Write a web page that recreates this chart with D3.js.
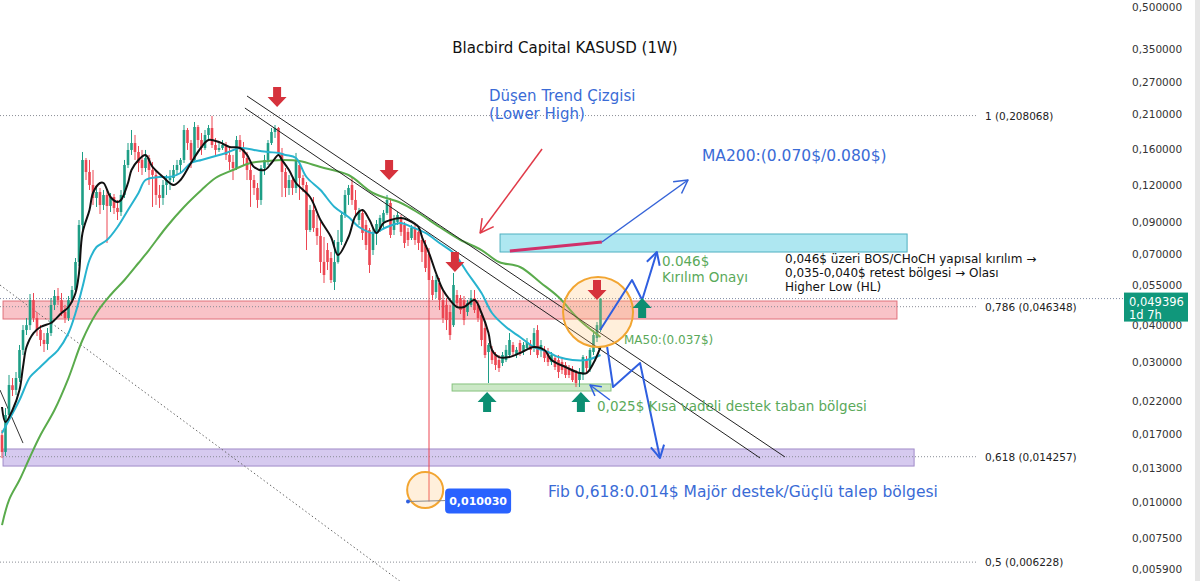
<!DOCTYPE html>
<html><head><meta charset="utf-8">
<script src="https://cdn.jsdelivr.net/npm/d3@7"></script>
<style>
body{margin:0;background:#fff;}
svg{display:block;font-family:'DejaVu Sans',sans-serif;}
</style></head>
<body><svg id="c" width="1200" height="581"></svg>
<script>
// ---------- DATA (weekly KASUSD) ----------
const opens=[.0169,.0148,.0198,.0250,.0241,.02646,.0330,.03858,.0401,.0488,.0424,.0386,.0357,.03457,.03768,.0470,.0504,.0488,.04445,.0424,.0488,.05284,.06585,.0881,.1468,.1336,.1206,.1089,.1141,.1031,.1115,.1023,.1097,.1007,.0975,.1115,.1411,.1588,.1677,.1563,.1468,.1378,.1491,.1357,.1305,.1115,.1089,.1206,.1254,.1274,.1357,.1411,.1468,.1858,.1677,.1468,.1902,.1717,.1613,.1786,.1887,.1651,.1588,.1613,.1651,.1527,.1445,.1378,.1717,.1613,.1491,.1357,.1254,.1178,.1072,.1378,.1468,.1677,.1829,.1887,.1551,.1336,.1178,.1254,.1178,.1411,.1274,.1206,.0847,.0991,.0860,.0808,.0659,.07235,.06794,.05627,.06585,.07705,.0953,.1115,.1206,.1072,.0916,.09677,.0881,.0847,.07235,.0834,.0860,.0902,.0968,.10468,.0847,.0902,.0931,.0881,.0834,.0795,.0860,.0834,.07827,.0753,.0700,.05716,.05202,.05583,.0488,.0470,.04445,.0401,.0508,.0496,.0488,.04445,.0470,.0496,.0470,.04341,.0392,.03246,.0330,.0317,.03048,.02977,.03048,.0317,.0343,.0317,.03484,.03246,.0335,.0343,.0335,.03858,.0330,.0330,.03246,.0300,.03096,.03048,.0300,.02931,.02862,.02818,.02752,.02605,.0271,.03048,.02862,.03246,.03623,.03858];
const highs=[.01758,.0209,.0271,.02646,.02774,.0343,.04013,.0424,.0512,.0516,.04445,.0401,.03768,.0392,.0496,.05284,.05368,.0516,.0470,.0504,.05453,.06794,.09159,.1563,.1491,.1468,.1357,.1206,.11777,.1159,.1159,.11324,.11236,.10718,.1159,.1468,.16774,.18579,.17864,.16384,.1588,.1588,.1527,.14448,.1357,.1206,.1254,.1305,.1357,.1411,.1468,.1491,.19324,.18874,.17174,.19784,.1932,.18146,.1858,.1932,.2075,.17448,.16906,.1717,.1691,.1613,.1527,.17724,.1786,.1691,.1563,.1434,.1305,.12249,.1411,.1527,.1717,.1887,.1932,.1902,.1613,.1378,.1305,.1274,.1551,.1468,.1305,.1235,.1031,.1097,.09527,.09016,.08014,.07645,.07122,.07827,.08467,.0975,.1159,.1206,.12841,.1159,.1007,.0991,.0916,.0860,.0860,.0916,.0953,.0991,.1115,.1089,.0953,.0975,.0953,.0902,.0860,.0881,.0881,.0860,.0814,.07827,.0735,.05899,.05945,.05806,.05284,.0496,.0470,.06039,.05284,.0508,.0504,.0488,.05284,.05284,.0488,.04445,.0411,.03484,.0340,.03246,.0317,.03246,.0343,.03768,.03511,.03376,.03567,.03511,.03623,.03567,.0392,.0401,.03567,.0340,.0335,.03246,.0317,.0317,.03096,.0300,.02931,.02908,.02818,.02862,.0317,.03145,.0335,.03858,.0411,.0496];
const lows=[.0141,.01434,.0190,.02297,.02315,.02564,.0317,.0371,.03858,.0411,.0368,.0340,.03246,.0330,.0368,.04515,.0470,.04307,.04077,.04141,.0477,.0512,.06381,.08467,.12541,.11594,.10305,.10145,.09602,.0991,.07645,.09753,.0960,.09159,.09452,.1089,.13783,.15266,.1468,.1336,.13045,.1336,.1206,.10145,.1031,.1007,.1031,.1115,.1159,.12345,.1305,.13251,.14335,.1588,.1378,.14448,.16128,.1527,.1588,.1717,.1613,.1527,.1563,.1588,.1468,.1357,.1254,.1357,.1563,.1411,.1254,.1015,.1115,.1007,.1031,.1305,.1411,.1651,.1745,.1527,.1097,.1097,.1115,.1115,.1132,.1072,.1141,.07235,.08335,.0834,.07526,.06039,.05583,.06183,.05583,.05284,.0650,.07526,.09305,.1031,.1031,.0953,.0881,.07827,.07235,.0604,.06956,.0753,.0834,.0860,.0953,.07951,.0814,.0881,.0808,.0735,.07467,.07827,.0753,.07235,.06585,.06087,.01003,.04884,.0496,.04515,.04077,.03858,.03567,.03951,.04659,.04375,.0401,.04307,.04623,.0441,.0411,.0340,.03096,.02544,.02954,.02818,.02774,.02908,.0300,.03096,.03145,.03096,.03145,.0317,.0330,.0317,.03246,.03096,.0312,.0300,.02908,.02931,.02818,.02646,.02731,.02646,.02646,.02564,.02466,.02466,.02605,.02774,.02774,.0317,.03511,.03798];
const closes=[.0148,.01979,.02505,.02408,.02646,.03297,.03858,.0401,.04884,.0424,.0386,.03567,.03457,.03768,.04696,.0504,.0488,.04445,.0424,.0488,.05284,.06585,.08806,.14677,.13355,.1206,.10888,.11413,.10305,.11148,.10225,.10974,.10065,.0975,.1115,.14112,.15877,.1677,.1563,.14335,.1378,.1491,.1357,.1305,.1115,.1089,.1206,.1254,.12741,.1357,.1411,.1468,.1858,.1677,.1468,.19023,.17174,.1613,.1786,.1887,.16513,.1588,.1613,.1651,.1527,.1445,.1378,.1717,.1613,.1491,.1357,.1254,.1178,.1072,.1378,.1468,.1677,.1829,.1887,.15507,.1336,.1178,.1254,.1178,.1468,.1274,.1206,.08467,.0991,.08601,.08078,.06585,.05945,.06585,.05716,.06585,.07705,.09527,.1115,.1178,.1072,.0991,.0975,.0827,.07526,.06432,.0834,.08876,.0931,.0968,.1072,.08141,.0916,.0953,.0834,.07645,.07827,.0860,.07827,.07645,.07122,.06282,.05716,.05081,.05716,.04884,.0424,.04174,.0371,.05496,.0477,.04515,.04174,.0477,.0496,.04515,.0424,.03567,.0317,.0343,.03048,.02931,.02862,.0317,.0330,.03567,.03246,.0330,.03246,.0343,.03511,.0330,.03768,.0317,.0343,.03096,.0300,.0317,.02885,.02774,.02818,.0271,.0271,.02605,.02544,.02774,.0312,.02862,.0330,.0371,.0401,.049396];

// moving averages sampled at candle indices
const maFastIdx=[0,1,3,5,6,7,9,11,14,15,17,19,21,22,23,25,26,28,29,31,33,34,36,37,39,41,43,46,49,51,54,57,59,62,65,68,70,72,75,77,79,80,82,84,88,91,94,96,99,101,103,105,107,109,111,114,116,119,120,122,124,126,128,130,132,135,137,139,140,142,145,148,152,155,157,161,165,167,169,171];
const maFastVal=[.02107,.01872,.02058,.02408,.02885,.03376,.03768,.03951,.04077,.04174,.0441,.04623,.0516,.06039,.0827,.0991,.11324,.1225,.1225,.10974,.1055,.10718,.1225,.13567,.14677,.15266,.13892,.12841,.1206,.12541,.14335,.16255,.17174,.16906,.16255,.16128,.15266,.13892,.13567,.14335,.15266,.14677,.13567,.1225,.10974,.09159,.08014,.06956,.08014,.09452,.09908,.09159,.0827,.08946,.09159,.09305,.09159,.08669,.08014,.07066,.06039,.05284,.04884,.04623,.04623,.04884,.0441,.03768,.03297,.0312,.0312,.0322,.03376,.03297,.03048,.02885,.02752,.02752,.02977,.03376];
const ma20Idx=[0,2,5,8,10,13,16,19,21,23,25,27,30,33,36,39,41,45,48,51,54,57,60,64,68,72,76,79,81,84,87,91,95,99,102,106,110,114,117,121,125,129,133,137,140,144,148,152,156,159,163,167,171];
const ma20Val=[.01717,.01902,.02226,.02667,.02818,.03048,.03297,.03768,.0441,.0541,.06689,.07408,.07827,.08669,.09908,.11324,.12541,.12841,.12841,.13251,.14335,.14677,.15028,.15507,.16128,.15877,.1563,.15507,.15266,.1491,.12841,.11594,.10145,.09378,.08669,.0827,.08669,.08946,.08669,.0827,.07645,.07066,.06039,.0516,.0441,.03951,.03652,.03376,.03246,.0312,.03048,.03048,.0317];
const ma50Idx=[0,2,5,8,11,15,19,23,27,31,35,39,42,47,52,57,61,66,71,76,80,85,91,99,106,114,119,125,131,137,142,148,154,159,165,171];
const ma50Val=[.00833,.01014,.01187,.01423,.0169,.02058,.02646,.03567,.0441,.05081,.05716,.06533,.07235,.08669,.10145,.11594,.12741,.13567,.14335,.14562,.14677,.14562,.13892,.13045,.11324,.10468,.09677,.08669,.07827,.07235,.06585,.06331,.05583,.05001,.04174,.03652];

const yTicks=[0.5,0.35,0.27,0.21,0.16,0.12,0.09,0.07,0.055,0.04,0.03,0.022,0.017,0.013,0.010,0.0075,0.0059];
const fibRatios=["1","0,786","0,618","0,5"];
const fibPrices=[0.208068,0.046348,0.014257,0.006228];
const lastPrice=0.049396;
const crashLow=0.010030;

// drawing objects in (candle index, price) coordinates
const pinkZone=[0.3,255.7,0.04846,0.04207];
const purpleZone=[0.3,260.6,0.01515,0.01325];
const cyanZone=[142.3,258.6,0.08205,0.07122];
const supportZone=[128.6,174,0.02525,0.02389];
const trendA=[[70,0.24268],[223.7,0.01423]];
const trendB=[[69.4,0.2208],[216.6,0.01411]];
const dottedDiag=[[-0.57,0.05496],[113.7,0.00536]];
const shortLine=[[-0.57,0.02408],[6,0.01587]];
const ma200Line=[[145.1,0.07178],[171.4,0.07705]];
const ma200Arrow=[[171.4,0.07705],[196,0.12541]];
const redPointer=[[154.3,0.160],[136.6,0.0827]];
const upPath=[[170.9,0.03858],[180,0.05716],[182.9,0.04884],[187.1,0.07122]];
const downPath=[[172.9,0.03376],[174.6,0.02466],[182.3,0.02977],[188,0.01411]];
const supportPointer=[[173.7,0.02226],[168,0.02505]];
const redMarkers=[[78.6,0.2226],[110.6,0.12541],[129.4,0.06087],[170,0.04884]];
const greenMarkers=[[138.6,0.0237],[165.4,0.0237],[182.9,0.0496]];
const bigCircle=[170.3,0.04445];
const smallCircle=[120.9,0.01097];
const lowMarker=[[116,0.01003],[126.6,0.0101]];

// ---------- SCALES ----------
const svg=d3.select('#c');
const x=d3.scaleLinear().domain([0,171]).range([2,600.5]);
const y=d3.scaleLog().domain([0.0059,0.5]).range([569,4]);
const fmt=v=>d3.format('.6f')(v).replace('.',',');
const blue='#3a6bd6', green='#5aa95a', up='#1e9e86', dn='#ec4652';

svg.append('rect').attr('width',1200).attr('height',581).attr('fill','#fff');
svg.append('rect').attr('x',1195).attr('y',0).attr('width',5).attr('height',581).attr('fill','#e6e6e6');

const g=svg.append('g');
function zone(z,fill,stroke){
  g.append('rect').attr('x',x(z[0])).attr('y',y(z[2])).attr('width',x(z[1])-x(z[0]))
   .attr('height',y(z[3])-y(z[2])).attr('fill',fill).attr('stroke',stroke).attr('stroke-width',1);
}
zone(pinkZone,'#f9c3c8','#e0707a');
zone(purpleZone,'#d6caef','#a08bc8');
zone(supportZone,'#cbe8c6','#86c27e');

// fib lines
fibPrices.forEach((p,k)=>{
  g.append('line').attr('x1',0).attr('x2',978).attr('y1',y(p)).attr('y2',y(p))
   .attr('stroke','#8a8d96').attr('stroke-width',1).attr('stroke-dasharray','1,2');
  g.append('text').attr('x',985).attr('y',y(p)+4).attr('font-size',10.5).attr('fill','#222')
   .text(fibRatios[k]+' ('+fmt(p)+')');
});
// last price line
g.append('line').attr('x1',0).attr('x2',1124).attr('y1',y(lastPrice)).attr('y2',y(lastPrice))
 .attr('stroke','#7f8aa3').attr('stroke-width',1).attr('stroke-dasharray','1,2');

// diagonal helper lines
const lineGen=d3.line().x(d=>x(d[0])).y(d=>y(d[1]));
g.append('path').attr('d',lineGen(dottedDiag)).attr('fill','none').attr('stroke','#666').attr('stroke-width',1).attr('stroke-dasharray','1.5,2.5');
g.append('path').attr('d',lineGen(shortLine)).attr('fill','none').attr('stroke','#333').attr('stroke-width',1);

// candles
const idx=d3.range(opens.length);
const cg=g.append('g');
idx.forEach(i=>{
  const o=opens[i],c=closes[i],h=Math.max(highs[i],o,c),l=Math.min(lows[i],o,c);
  const col=c>=o?up:dn;
  cg.append('line').attr('x1',x(i)).attr('x2',x(i)).attr('y1',y(h)).attr('y2',y(l)).attr('stroke',col).attr('stroke-width',1);
  const top=y(Math.max(o,c)),bot=y(Math.min(o,c));
  cg.append('rect').attr('x',x(i)-1.3).attr('width',2.6).attr('y',top).attr('height',Math.max(1,bot-top)).attr('fill',col);
});

// moving averages
const maLine=d3.line().x(d=>x(d[0])).y(d=>y(d[1])).curve(d3.curveCatmullRom.alpha(0.5));
function ma(ix,vals,col){
  g.append('path').attr('d',maLine(ix.map((v,k)=>[v,vals[k]]))).attr('fill','none')
   .attr('stroke',col).attr('stroke-width',2).attr('stroke-linejoin','round');
}
ma(ma50Idx,ma50Val,'#5aab4c');
ma(ma20Idx,ma20Val,'#27b3cf');
ma(maFastIdx,maFastVal,'#111');

// trend lines
g.append('path').attr('d',lineGen(trendA)).attr('stroke','#222').attr('stroke-width',1).attr('fill','none');
g.append('path').attr('d',lineGen(trendB)).attr('stroke','#222').attr('stroke-width',1).attr('fill','none');

// cyan MA200 box
zone(cyanZone,'rgba(120,215,232,0.6)','#4fb0c0');
g.append('path').attr('d',lineGen(ma200Line)).attr('stroke','#d0306a').attr('stroke-width',3).attr('fill','none');

// arrows helper
function arrow(pts,col,w,len){
  const P=pts.map(d=>[x(d[0]),y(d[1])]);
  g.append('path').attr('d',d3.line()(P)).attr('fill','none').attr('stroke',col).attr('stroke-width',w).attr('stroke-linejoin','round');
  const a=P[P.length-1],b=P[P.length-2];
  const ang=Math.atan2(b[1]-a[1],b[0]-a[0]);
  const h1=[a[0]+len*Math.cos(ang+0.5),a[1]+len*Math.sin(ang+0.5)];
  const h2=[a[0]+len*Math.cos(ang-0.5),a[1]+len*Math.sin(ang-0.5)];
  g.append('path').attr('d',d3.line()([h1,a,h2])).attr('fill','none').attr('stroke',col).attr('stroke-width',w).attr('stroke-linejoin','round');
}
arrow(ma200Arrow,'#3563d8',1.5,15);
arrow(redPointer,'#e03a48',1.5,15);

// circles
function circ(c,r){
  g.append('circle').attr('cx',x(c[0])).attr('cy',y(c[1])).attr('r',r)
   .attr('fill','rgba(255,190,110,0.25)').attr('stroke','#f2a531').attr('stroke-width',2);
}
circ(bigCircle,35);
circ(smallCircle,18);

// projection paths
arrow(upPath,'#2f5fe0',2,14);
arrow(downPath,'#2f5fe0',2,14);
arrow(supportPointer,'#2f5fe0',1.5,12);

// block markers
function marker(pt,col,down){
  const s=down?1:-1;
  const d=`M${-4},${-20*s} L4,${-20*s} L4,${-10*s} L9.5,${-10*s} L0,0 L-9.5,${-10*s} L-4,${-10*s} Z`;
  g.append('path').attr('d',d).attr('transform',`translate(${x(pt[0])},${y(pt[1])})`).attr('fill',col);
}
redMarkers.forEach(p=>marker(p,'#d6323c',true));
greenMarkers.forEach(p=>marker(p,'#0c8f72',false));

// crash low marker
g.append('path').attr('d',lineGen(lowMarker)).attr('stroke','#888').attr('stroke-width',1).attr('fill','none');
g.append('circle').attr('cx',x(lowMarker[0][0])).attr('cy',y(lowMarker[0][1])).attr('r',2).attr('fill','#2f5fe0');
g.append('rect').attr('x',x(lowMarker[1][0])).attr('y',y(crashLow)-13).attr('width',66).attr('height',25).attr('rx',4).attr('fill','#2962ff');
g.append('text').attr('x',x(lowMarker[1][0])+33).attr('y',y(crashLow)+4).attr('text-anchor','middle')
 .attr('font-size',11).attr('font-weight','bold').attr('fill','#fff').text(fmt(crashLow));

// texts
function txt(t,px,py,size,col,anchor){
  return svg.append('text').attr('x',px).attr('y',py).attr('font-size',size).attr('fill',col)
   .attr('text-anchor',anchor||'start').text(t);
}
txt('Blacbird Capital KASUSD (1W)',565,53,15,'#111','middle');
txt('Düşen Trend Çizgisi',489,101,15,blue);
txt('(Lower High)',489,119,15,blue);
txt('MA200:(0.070$/0.080$)',702,161,15.5,blue);
txt('0.046$',662,266,13.5,green);
txt('Kırılım Onayı',662,282,13.5,green);
txt('0,046$ üzeri BOS/CHoCH yapısal kırılım →',785,263,12,'#111');
txt('0,035-0,040$ retest bölgesi → Olası',785,277,12,'#111');
txt('Higher Low (HL)',785,291,12,'#111');
txt('MA50:(0.037$)',624,344,12,green);
txt('0,025$ Kısa vadeli destek taban bölgesi',597,411,13.5,green);
txt('Fib 0,618:0.014$ Majör destek/Güçlü talep bölgesi',548,497,15.5,blue);

// right axis
const ax=svg.append('g').attr('transform','translate(1126,0)')
 .call(d3.axisRight(y).tickValues(yTicks).tickFormat(fmt).tickSize(0).tickPadding(6));
ax.select('.domain').remove();
ax.selectAll('text').attr('font-size',10.5).attr('fill','#333').attr('font-family','DejaVu Sans, sans-serif');
// keep the topmost label inside the picture
ax.selectAll('.tick').filter(d=>d===0.5).select('text').attr('dy','0.62em');

// last price label
svg.append('rect').attr('x',1124).attr('y',y(lastPrice)-6).attr('width',64).attr('height',29).attr('fill','#10977b');
txt(fmt(lastPrice),1129,y(lastPrice)+7,11.5,'#fff');
txt('1d 7h',1129,y(lastPrice)+20,11.5,'#fff');
</script></body></html>
